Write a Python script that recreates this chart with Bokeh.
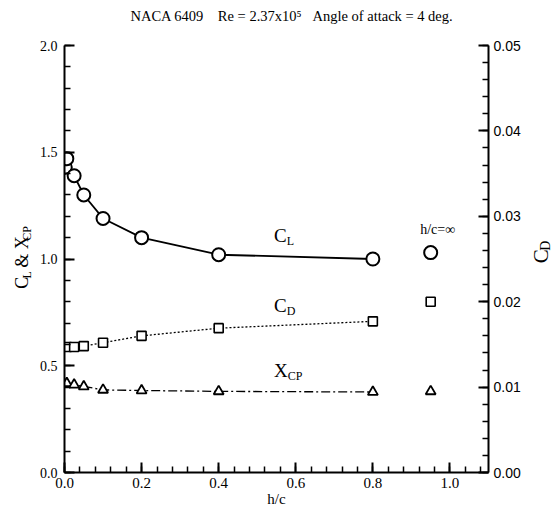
import math
from bokeh.plotting import figure
from bokeh.layouts import row
from bokeh.models import Range1d, LinearAxis, FixedTicker, Label, NumeralTickFormatter
from bokeh.core.properties import value
from bokeh.embed import file_html
from bokeh.resources import INLINE

# ---- data ----
h_c_cl = [0.002, 0.006, 0.025, 0.05, 0.1, 0.2, 0.4, 0.8]
cl = [1.43, 1.47, 1.39, 1.30, 1.19, 1.10, 1.02, 1.00]
h_c = [0.006, 0.025, 0.05, 0.1, 0.2, 0.4, 0.8]
cd = [0.0147, 0.0147, 0.0148, 0.0152, 0.0160, 0.0169, 0.0177]
xcp = [0.418, 0.411, 0.403, 0.387, 0.384, 0.380, 0.377]
h_c_inf = [0.95]
cl_inf = [1.03]
cd_inf = [0.0200]
xcp_inf = [0.380]

x_ticks = [0.0, 0.2, 0.4, 0.6, 0.8, 1.0]
y_ticks = [0.0, 0.5, 1.0, 1.5, 2.0]
cd_ticks = [0.0, 0.01, 0.02, 0.03, 0.04, 0.05]
x_minor = [round(i * 0.04, 3) for i in range(28)]
y_minor = [round(i * 0.1, 2) for i in range(21)]
cd_minor = [round(i * 0.002, 4) for i in range(26)]

SERIF = "Liberation Serif"
SANS = "Liberation Sans"

H = 516
LW, RW = 36, 33                     # side strips holding the rotated axis titles
MAIN_X0, MAIN_X1 = LW, 558 - RW     # main figure span in page pixels
FL, FT, FR, FB = 63, 45, 488, 472   # frame edges in page pixels

p = figure(width=MAIN_X1 - MAIN_X0, height=H, output_backend="svg", toolbar_location=None,
           x_range=Range1d(0, 1.1), y_range=Range1d(0, 2.0),
           min_border_left=FL - MAIN_X0, min_border_right=MAIN_X1 - FR,
           min_border_top=FT, min_border_bottom=H - FB)
p.extra_y_ranges = {"cd": Range1d(0, 0.05)}
p.outline_line_color = None
p.grid.visible = False
p.background_fill_color = "white"
p.border_fill_color = "white"

right = LinearAxis(y_range_name="cd")
p.add_layout(right, "right")

def style(ax, font, size, standoff):
    ax.axis_line_width = 2
    ax.axis_line_color = "black"
    ax.major_tick_in = 10
    ax.major_tick_out = 0
    ax.minor_tick_in = 6
    ax.minor_tick_out = 0
    ax.major_tick_line_width = 2
    ax.minor_tick_line_width = 1.5
    ax.major_tick_line_color = "black"
    ax.minor_tick_line_color = "black"
    ax.major_label_text_font = font
    ax.major_label_text_font_size = size
    ax.major_label_text_color = "black"
    ax.major_label_standoff = standoff

xa = p.xaxis[0]
ya = p.yaxis[0]
style(xa, SERIF, "15px", 5)
style(ya, SERIF, "14px", 7)
style(right, SANS, "14px", 5)
xa.ticker = FixedTicker(ticks=x_ticks, minor_ticks=x_minor)
ya.ticker = FixedTicker(ticks=y_ticks, minor_ticks=y_minor)
right.ticker = FixedTicker(ticks=cd_ticks, minor_ticks=cd_minor)
xa.formatter = NumeralTickFormatter(format="0.0")
ya.formatter = NumeralTickFormatter(format="0.0")
right.formatter = NumeralTickFormatter(format="0.00")
xa.axis_label = "h/c"
xa.axis_label_text_font = SERIF
xa.axis_label_text_font_style = "normal"
xa.axis_label_text_font_size = "15px"
xa.axis_label_text_color = "black"
xa.axis_label_standoff = 0

# ---- series ----
p.line(h_c_cl, cl, line_color="black", line_width=1.8)
p.scatter(h_c_cl, cl, marker="circle", size=13, fill_color="white", line_color="black", line_width=2)

p.line(h_c, cd, y_range_name="cd", line_color="black", line_width=1.3, line_dash="2 2")
p.scatter(h_c, cd, y_range_name="cd", marker="square", size=9, fill_color="white", line_color="black", line_width=1.6)

p.line(h_c, xcp, line_color="black", line_width=1.3, line_dash="9 3 2 3")
p.scatter(h_c, xcp, marker="triangle", size=10, fill_color="white", line_color="black", line_width=1.8)

p.scatter(h_c_inf, cl_inf, marker="circle", size=13, fill_color="white", line_color="black", line_width=2)
p.scatter(h_c_inf, cd_inf, y_range_name="cd", marker="square", size=9, fill_color="white", line_color="black", line_width=1.6)
p.scatter(h_c_inf, xcp_inf, marker="triangle", size=10, fill_color="white", line_color="black", line_width=1.8)

# ---- text annotations (positions given in page pixels, converted to data units) ----
def at(X, Y):
    return (X - FL) / (FR - FL) * 1.1, (FB - Y) / (FB - FT) * 2.0

def lab(X, Y, text, size, align="left", place="center"):
    x, y = at(X, Y)
    p.add_layout(Label(x=x, y=y, text=text, text_font=SERIF, text_font_size=size,
                       text_color="black", text_align=align, text_baseline="middle"),
                 place)

NB = "\u00a0"
lab(291, 15, "NACA 6409" + NB * 4 + "Re = 2.37x10\u2075" + NB * 3 + "Angle of attack = 4 deg.",
    "14.5px", align="center", place="above")

lab(273, 235, "C", "19px")
lab(285.7, 240, "L", "12px")
lab(273, 304.5, "C", "19px")
lab(285.7, 310, "D", "12px")
lab(273, 369.5, "X", "19px")
lab(286.7, 375.5, "CP", "12px")
lab(437, 229, "h/c=\u221e", "14px", align="center")

# ---- side strips for the rotated axis titles (with subscripts) ----
def strip(x0, w):
    f = figure(width=w, height=H, output_backend="svg", toolbar_location=None,
               x_range=Range1d(x0, x0 + w), y_range=Range1d(0, H),
               x_axis_type=None, y_axis_type=None,
               min_border_left=0, min_border_right=0, min_border_top=0, min_border_bottom=0)
    f.grid.visible = False
    f.outline_line_color = None
    f.background_fill_color = "white"
    f.border_fill_color = "white"
    return f

def rtext(f, X, Y, text, size):
    f.text(x=[X], y=[H - Y], text=[text], angle=math.pi / 2,
           text_font=value(SERIF), text_font_size=value(size), text_color="black",
           text_align="left", text_baseline="middle")

left_strip = strip(0, LW)
rtext(left_strip, 21, 294, "C", "18px")
rtext(left_strip, 26, 281.5, "L", "12px")
rtext(left_strip, 21, 274, "\u00a0&\u00a0X", "18px")
rtext(left_strip, 26, 236, "CP", "12px")

right_strip = strip(MAIN_X1, RW)
rtext(right_strip, 540, 263, "C", "21px")
rtext(right_strip, 545, 248, "D", "14px")

layout = row(left_strip, p, right_strip)
open("out.html", "w").write(file_html(layout, INLINE))
